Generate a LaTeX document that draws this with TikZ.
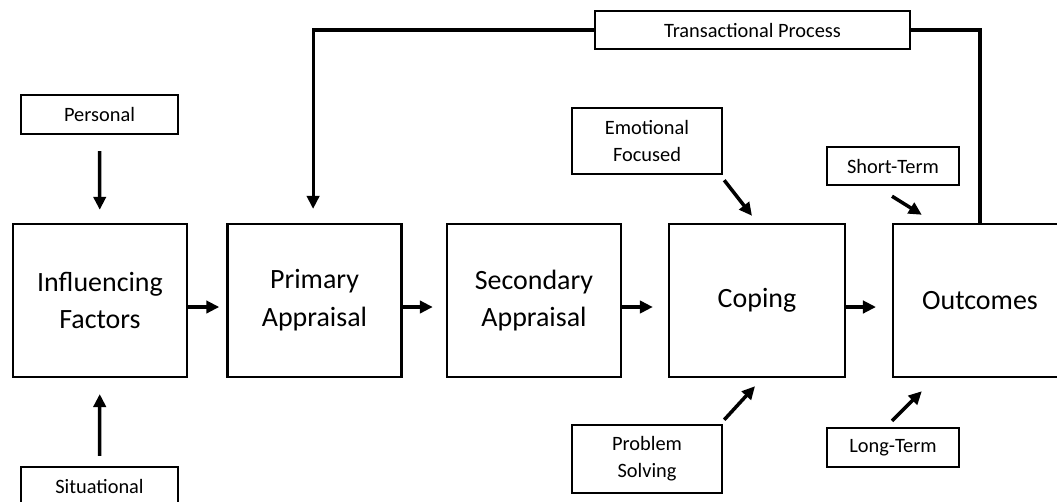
\documentclass[tikz,border=0pt]{standalone}
\usepackage{fontspec}
\setmainfont{Carlito}
\usetikzlibrary{arrows.meta}

\begin{document}
\begin{tikzpicture}[x=0.02cm,y=-0.02cm,
big/.style={draw,line width=1.4pt,minimum width=3.48cm,minimum height=3.06cm,align=center,inner sep=0pt,font=\fontsize{15.9}{21.5}\selectfont},
small/.style={draw,line width=1.4pt,align=center,inner sep=0pt,font=\fontsize{11.6}{15.3}\selectfont},
arr/.style={line width=2pt,-{Triangle[length=7.4pt,width=7pt]}},
fb/.style={line width=1.8pt}]
\useasboundingbox(0,0)rectangle(1057,501);
\clip(0,0)rectangle(1057,501);
% main chain
\node[big](infl)at(100,300.5){Influencing\\Factors};
\node[big](prim)at(314.5,300.5){Primary\\Appraisal};
\node[big](sec)at(534,300.5){Secondary\\Appraisal};
\node[big,minimum width=3.52cm](cop)at(757,300.5){Coping};
\node[big](outc)at(980,300.5){Outcomes};
% side boxes
\node[small,minimum width=3.14cm,minimum height=0.78cm](pers)at(99.5,114.5){Personal};
\node[small,minimum width=3.14cm,minimum height=0.78cm](sit)at(99.5,486.5){Situational};
\node[small,minimum width=6.3cm,minimum height=0.76cm](trans)at(752.5,30){Transactional Process};
\node[small,minimum width=3cm,minimum height=1.32cm](emo)at(647,141){Emotional\\Focused};
\node[small,minimum width=3cm,minimum height=1.36cm](prob)at(647,459){Problem\\Solving};
\node[small,minimum width=2.64cm,minimum height=0.76cm](short)at(893,166){Short-Term};
\node[small,minimum width=2.64cm,minimum height=0.78cm](long)at(893,447.5){Long-Term};
% arrows
\draw[arr,shorten <=9pt,shorten >=7.4pt](pers)--(infl);
\draw[arr,shorten <=5.7pt,shorten >=9pt](sit)--(infl);
\draw[arr,shorten >=4pt]([yshift=-3.7pt]infl.east)--([yshift=-3.7pt]prim.west);
\draw[arr,shorten >=7.4pt]([yshift=-3.7pt]prim.east)--([yshift=-3.7pt]sec.west);
\draw[arr,shorten >=8.5pt]([yshift=-3.7pt]sec.east)--([yshift=-3.7pt]cop.west);
\draw[arr,shorten >=9pt]([yshift=-3.7pt]cop.east)--([yshift=-3.7pt]outc.west);
\draw[arr]([shift={(1,5)}]emo.south east)--([shift={(-5,-7)}]cop.north);
\draw[arr]([shift={(1,-4)}]prob.north east)--([shift={(-2,8)}]cop.south);
\draw[arr]([shift={(-1,10)}]short.south)--([shift={(30,-8)}]outc.north west);
\draw[arr]([shift={(-1,-6)}]long.north)--([shift={(30,13)}]outc.south west);
% feedback loop
\draw[fb,-{Triangle[length=7.4pt,width=7pt]},shorten >=7.9pt](trans.west)-|([xshift=-0.8pt]prim.north);
\draw[fb](trans.east)-|(outc.north);
\end{tikzpicture}
\end{document}
